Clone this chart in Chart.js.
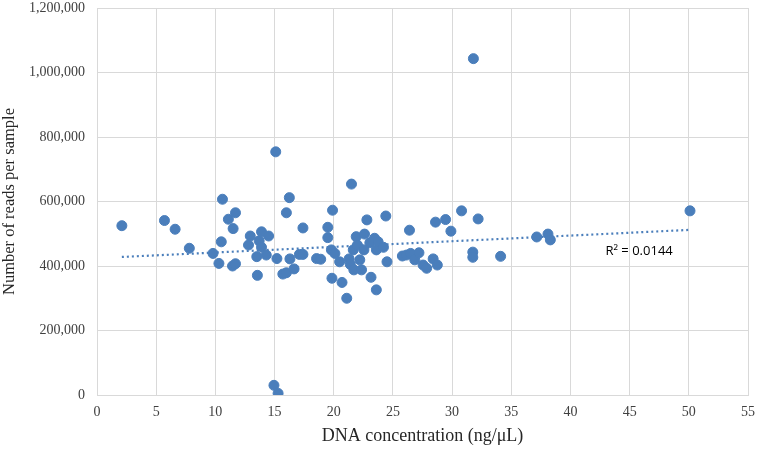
<!DOCTYPE html>
<html><head><meta charset="utf-8">
<script src="https://cdn.jsdelivr.net/npm/chart.js@4"></script>
<style>html,body{margin:0;padding:0;background:#fff}#wrap{width:760px;height:449px}</style>
</head><body><div id="wrap"><canvas id="c" width="760" height="449"></canvas></div>
<script>
const concentration = [2.1,5.7,6.6,7.8,9.8,10.3,10.5,10.6,11.1,11.5,11.7,11.45,11.7,12.8,12.95,13.5,13.55,13.7,13.9,13.9,14.3,14.5,14.95,15.1,15.2,15.3,15.7,16.0,16.0,16.25,16.3,16.65,17.1,17.4,17.4,18.55,18.9,19.5,19.5,19.8,19.85,19.9,20.1,20.5,20.7,21.1,21.3,21.4,21.5,21.65,21.7,21.9,22.0,22.2,22.35,22.55,22.6,22.8,23.05,23.15,23.45,23.6,23.6,23.75,24.2,24.4,24.5,25.8,26.15,26.4,26.5,26.85,27.2,27.55,27.85,28.4,28.6,28.75,29.45,29.9,30.8,31.75,31.75,31.8,32.2,34.1,37.15,38.1,38.3,50.1];
const reads = [525000,541000,514000,455000,439000,408000,475000,607000,545000,516000,565000,400000,407000,465000,493000,429000,371000,478000,506000,458000,434000,493000,30000,754000,423000,5000,375000,379000,565000,612000,422000,391000,436000,436000,518000,423000,421000,520000,488000,450000,362000,573000,439000,413000,349000,300000,422000,405000,654000,450000,388000,491000,465000,419000,388000,450000,499000,543000,472000,365000,486000,450000,326000,475000,458000,555000,413000,431000,434000,511000,439000,419000,441000,403000,393000,422000,536000,403000,544000,508000,571000,443000,427000,1043000,546000,430000,490000,499000,481000,571000];
const trendX = [2.1, 50.1];
const trendY = [428000, 512000];
const r2Label = "R² = 0.0144";
const r2Pos = [45.8, 445000];
const xTicks = [0,5,10,15,20,25,30,35,40,45,50,55];
const yTicks = [0,200000,400000,600000,800000,1000000,1200000];

const blue = '#4a7ebb';
const points = concentration.map((x,i)=>({x:x,y:reads[i]}));
const trend = trendX.map((x,i)=>({x:x,y:trendY[i]}));

const r2Plugin = {
  id:'r2',
  afterDatasetsDraw(chart){
    const {ctx, scales:{x,y}} = chart;
    ctx.save();
    ctx.font = '13px "Open Sans", "Liberation Sans", sans-serif';
    ctx.fillStyle = '#000';
    ctx.textAlign = 'center';
    ctx.textBaseline = 'middle';
    ctx.fillText(r2Label, x.getPixelForValue(r2Pos[0]), y.getPixelForValue(r2Pos[1]));
    ctx.restore();
  }
};

const serif = '"Liberation Serif", "Times New Roman", serif';

new Chart(document.getElementById('c'), {
  type:'scatter',
  data:{datasets:[
    {type:'line', data:trend, borderColor:blue, borderWidth:2.2, borderDash:[2,3], pointRadius:0, fill:false, order:2},
    {data:points, backgroundColor:blue, borderColor:blue, pointRadius:5, pointHoverRadius:5, order:1}
  ]},
  options:{
    responsive:false, animation:false,
    layout:{padding:{top:8,right:12,left:0,bottom:0}},
    plugins:{legend:{display:false}, tooltip:{enabled:false}},
    scales:{
      x:{type:'linear', min:0, max:55,
        afterBuildTicks(s){ s.ticks = xTicks.map(v=>({value:v})); },
        afterFit(s){ s.height = 54; s.paddingLeft = 0; s.paddingRight = 0; },
        grid:{color:'#d9d9d9', drawTicks:false, lineWidth:1},
        border:{color:'#d9d9d9'},
        ticks:{padding:9, color:'#404040', font:{family:serif, size:14}},
        title:{display:true, text:'DNA concentration (ng/μL)', color:'#262626', padding:{top:3,bottom:2}, font:{family:serif, size:18}}
      },
      y:{type:'linear', min:0, max:1200000,
        afterBuildTicks(s){ s.ticks = yTicks.map(v=>({value:v})); },
        afterFit(s){ s.width = 97; s.paddingTop = 0; s.paddingBottom = 0; },
        grid:{color:'#d9d9d9', drawTicks:false, lineWidth:1},
        border:{color:'#d9d9d9'},
        ticks:{padding:12, color:'#404040', font:{family:serif, size:14},
          callback:(v)=>v.toLocaleString('en-US')},
        title:{display:true, text:'Number of reads per sample', color:'#262626', padding:{top:0,bottom:0}, font:{family:serif, size:16.5}}
      }
    }
  },
  plugins:[r2Plugin]
});
</script></body></html>
